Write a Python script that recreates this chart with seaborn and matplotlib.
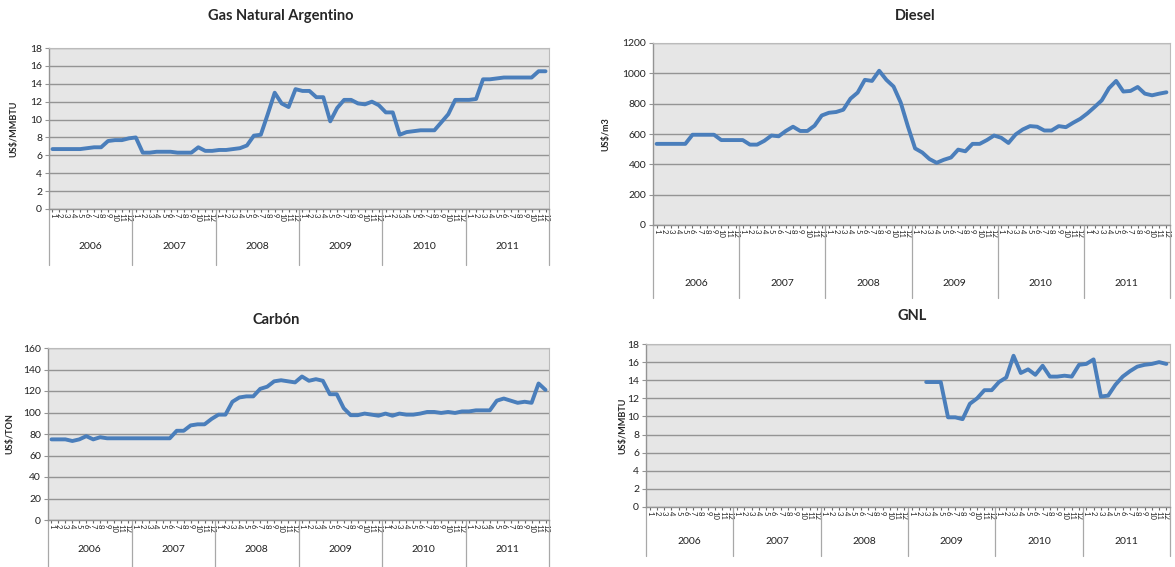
import numpy as np
import pandas as pd
import matplotlib
matplotlib.use("Agg")
import matplotlib.pyplot as plt
import matplotlib.transforms as mtransforms
import seaborn as sns

# ---------------- data ----------------
years = ["2006", "2007", "2008", "2009", "2010", "2011"]
months = [str(m) for m in range(1, 13)]

gas_natural = [6.7, 6.7, 6.7, 6.7, 6.7, 6.8, 6.9, 6.9, 7.6, 7.7, 7.7, 7.9,
               8.0, 6.3, 6.3, 6.4, 6.4, 6.4, 6.3, 6.3, 6.3, 6.9, 6.5, 6.5,
               6.6, 6.6, 6.7, 6.8, 7.1, 8.2, 8.3, 10.6, 13.0, 11.8, 11.4, 13.4,
               13.2, 13.2, 12.5, 12.5, 9.8, 11.3, 12.2, 12.2, 11.8, 11.7, 12.0, 11.6,
               10.8, 10.8, 8.3, 8.6, 8.7, 8.8, 8.8, 8.8, 9.7, 10.6, 12.2, 12.2,
               12.2, 12.3, 14.5, 14.5, 14.6, 14.7, 14.7, 14.7, 14.7, 14.7, 15.4, 15.4]

diesel = [535, 535, 535, 535, 535, 595, 595, 595, 595, 560, 560, 560,
          560, 530, 530, 555, 590, 585, 620, 648, 620, 620, 655, 722,
          740, 745, 760, 833, 873, 957, 950, 1017, 957, 913, 807, 650,
          505, 478, 435, 410, 430, 445, 497, 486, 535, 535, 560, 590,
          575, 541, 597, 630, 652, 648, 623, 623, 652, 645, 674, 700,
          736, 778, 822, 902, 950, 880, 884, 910, 866, 855, 866, 875]

carbon = [75, 75, 75, 73.5, 75, 78, 75, 77, 76, 76, 76, 76,
          76, 76, 76, 76, 76, 76, 83, 83, 88, 89, 89, 94,
          98, 98, 110, 114, 115, 115, 122, 124, 129, 130, 129, 128,
          133.5, 129.5, 131, 129.5, 117, 117, 104, 97.5, 97.5, 99, 98, 97,
          99, 97, 99, 98, 98, 99, 100.5, 100.5, 99.6, 100.5, 99.6, 101,
          101, 102, 102, 102, 111, 113, 111, 109, 110, 109, 127, 121]

gnl = [np.nan] * 38 + [13.8, 13.8, 13.8, 9.9, 9.9, 9.7, 11.4, 12.0, 12.9, 12.9,
                       13.8, 14.3, 16.7, 14.8, 15.2, 14.6, 15.6, 14.4, 14.4, 14.5,
                       14.4, 15.7, 15.8, 16.3, 12.2, 12.3, 13.5, 14.4, 15.0, 15.5,
                       15.7, 15.8, 16.0, 15.8]

titles = ["Gas Natural Argentino", "Diesel", "Carbón", "GNL"]
ylabels = ["US$/MMBTU", "US$/m3", "US$/TON", "US$/MMBTU"]
ymax = [18, 1200, 160, 18]
ystep = [2, 200, 20, 2]
series_list = [gas_natural, diesel, carbon, gnl]

# ---------------- layout (pixels in a 1175x567 canvas) ----------------
W, H = 1175, 567
# left, right, top, bottom of plot area
boxes = [(49, 549, 48, 209), (653, 1170, 43, 225), (48, 549, 348, 520), (646, 1170, 344, 507)]
year_label_y = [247, 284, 549, 541]
divider_bottom = [265, 298, 567, 556]
title_pos = [(281, 16), (915, 16), (276, 320), (912, 316)]
ylabel_x = [14, 606, 10, 623]

sns.set_style("whitegrid")
plt.rcParams["font.family"] = ["Lato", "DejaVu Sans"]

fig = plt.figure(figsize=(W / 100, H / 100), dpi=100)
line_color = "#4A7EBB"
grid_color = "#949494"

for k in range(4):
    l, r, t, b = boxes[k]
    ax = fig.add_axes([l / W, 1 - b / H, (r - l) / W, (b - t) / H])
    ax.set_facecolor("#E6E6E6")
    n = len(years) * len(months)
    df = pd.DataFrame({
        "idx": np.arange(n),
        "value": series_list[k],
    })
    sns.lineplot(data=df, x="idx", y="value", ax=ax, color=line_color,
                 linewidth=2.8, estimator=None, solid_capstyle="round",
                 solid_joinstyle="round")
    ax.set_xlim(-0.5, n - 0.5)
    ax.set_ylim(0, ymax[k])
    ax.set_yticks(np.arange(0, ymax[k] + ystep[k] / 2, ystep[k]))
    ax.yaxis.grid(True, color=grid_color, linewidth=1.0)
    ax.xaxis.grid(False)
    ax.tick_params(axis="y", labelsize=7.5, length=3, color=grid_color, pad=2,
                   left=True, labelcolor="#222222")
    ax.set_xticks(np.arange(n))
    ax.set_xticklabels(months * len(years), rotation=-90, fontsize=5.5,
                       va="top", ha="center", linespacing=0.8, color="#222222")
    ax.tick_params(axis="x", length=2, pad=1, color="#666666", bottom=True)
    for side in ["top", "right"]:
        ax.spines[side].set_visible(True)
        ax.spines[side].set_color("#BBBBBB")
        ax.spines[side].set_linewidth(0.8)
    for side in ["left", "bottom"]:
        ax.spines[side].set_color(grid_color)
        ax.spines[side].set_linewidth(1.0)
    ax.set_xlabel("")
    ax.set_ylabel("")

    # year group labels and dividers
    hpx = b - t
    trans = mtransforms.blended_transform_factory(ax.transData, ax.transAxes)
    yl = -(year_label_y[k] - b) / hpx
    yd = -(divider_bottom[k] - b) / hpx
    for j, yr in enumerate(years):
        ax.text(j * 12 + 5.5, yl, yr, transform=trans, ha="center", va="center",
                fontsize=7.5, color="#222222")
    for j in range(len(years) + 1):
        ax.plot([j * 12 - 0.5, j * 12 - 0.5], [0, yd], transform=trans,
                color="#A8A8A8", linewidth=0.9, clip_on=False)

    fig.text(title_pos[k][0] / W, 1 - title_pos[k][1] / H, titles[k],
             ha="center", va="center", fontsize=10.5, fontweight="bold")
    fig.text(ylabel_x[k] / W, 1 - ((t + b) / 2) / H, ylabels[k], rotation=90,
             ha="center", va="center", fontsize=6.5, fontweight="bold")

fig.savefig("out.png", dpi=100, facecolor="white")
